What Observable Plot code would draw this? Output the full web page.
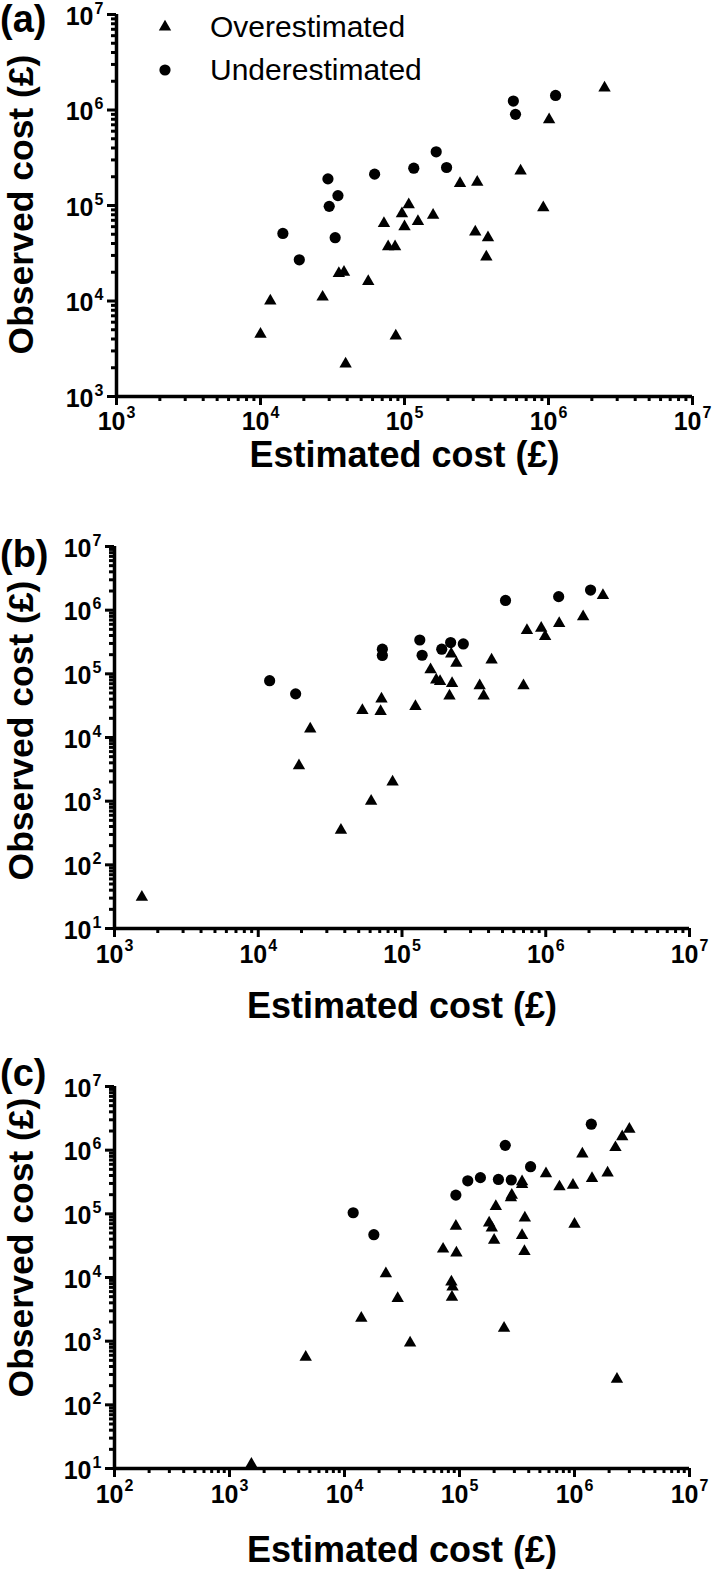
<!DOCTYPE html>
<html><head><meta charset="utf-8">
<script src="https://cdn.jsdelivr.net/npm/d3@7"></script>
<script src="https://cdn.jsdelivr.net/npm/@observablehq/plot@0.6"></script>
<style>
body{margin:0;background:#fff;font-family:"Liberation Sans",Arial,sans-serif;}
.panel{position:relative;width:712px;}
.panel svg{display:block;}
.plabel{position:absolute;left:0;font-weight:bold;font-size:38px;line-height:1;}
.legrow{position:absolute;display:flex;align-items:center;font-size:30px;line-height:1;}
.legrow span{margin-left:30px;}
</style></head><body><div id="root"></div>
<script>
// ---------- data: [estimated cost, observed cost] ----------
const aOver = [[1.0e4,4.5e3],[1.17e4,1.0e4],[2.7e4,1.1e4],[3.5e4,1.95e4],[3.8e4,2.0e4],[3.9e4,2.2e3],
  [5.6e4,1.6e4],[7.7e4,3.7e4],[8.6e4,3.7e4],[8.7e4,4.3e3],[7.2e4,6.5e4],[9.6e4,8.2e4],[1.0e5,6.0e4],
  [1.07e5,1.02e5],[1.24e5,6.8e4],[1.58e5,7.9e4],[2.43e5,1.7e5],[3.2e5,1.76e5],[3.1e5,5.3e4],
  [3.8e5,4.6e4],[3.7e5,2.9e4],[6.4e5,2.3e5],[9.2e5,9.5e4],[1.01e6,7.9e5],[2.45e6,1.7e6]];
const aUnder = [[1.43e4,5.1e4],[1.86e4,2.7e4],[2.94e4,1.9e5],[3.0e4,9.8e4],[3.45e4,1.27e5],[3.3e4,4.6e4],
  [6.2e4,2.13e5],[1.16e5,2.46e5],[1.66e5,3.65e5],[1.96e5,2.5e5],[5.7e5,1.24e6],[5.9e5,9.0e5],[1.12e6,1.42e6]];

const bOver = [[1.55e3,31],[1.92e4,3.6e3],[2.3e4,1.36e4],[3.76e4,350],[6.1e4,1.0e3],[8.6e4,2.0e3],
  [5.3e4,2.66e4],[7.2e4,4.05e4],[7.1e4,2.56e4],[1.24e5,3.07e4],[1.58e5,1.16e5],[1.73e5,8.05e4],
  [1.84e5,7.6e4],[2.2e5,2.06e5],[2.39e5,1.47e5],[2.23e5,7.1e4],[2.14e5,4.5e4],[3.47e5,6.5e4],
  [3.7e5,4.5e4],[4.2e5,1.66e5],[7.0e5,6.5e4],[7.4e5,4.8e5],[9.3e5,5.2e5],[9.9e5,3.86e5],
  [1.24e6,6.2e5],[1.82e6,7.9e5],[2.5e6,1.7e6]];
const bUnder = [[1.2e4,7.8e4],[1.82e4,4.85e4],[7.3e4,2.44e5],[7.3e4,1.94e5],[1.33e5,3.4e5],[1.38e5,1.96e5],
  [1.89e5,2.44e5],[2.18e5,3.1e5],[2.67e5,2.95e5],[5.25e5,1.42e6],[1.23e6,1.63e6],[2.05e6,2.07e6]];

const cOver = [[1.55e3,11.7],[4.6e3,560],[1.4e4,2.3e3],[2.29e4,1.15e4],[2.9e4,4.7e3],[3.72e4,940],
  [7.2e4,2.8e4],[9.3e4,6.4e4],[9.4e4,2.43e4],[8.5e4,8.5e3],[8.7e4,7.1e3],[8.6e4,4.9e3],[1.81e5,7.2e4],
  [1.91e5,6.0e4],[2.0e5,3.85e4],[2.07e5,1.31e5],[2.8e5,1.8e5],[2.85e5,1.97e5],[2.44e5,1.6e3],
  [3.5e5,2.9e5],[3.5e5,3.2e5],[3.5e5,4.6e4],[3.7e5,8.6e4],[3.67e5,2.56e4],[5.65e5,4.27e5],
  [7.4e5,2.66e5],[9.7e5,2.83e5],[1.0e6,6.9e4],[1.17e6,8.7e5],[1.42e6,3.6e5],[1.94e6,4.4e5],
  [2.27e6,1.1e6],[2.6e6,1.63e6],[3.0e6,2.13e6],[2.34e6,254]];
const cUnder = [[1.19e4,1.04e5],[1.8e4,4.7e4],[9.3e4,1.97e5],[1.18e5,3.3e5],[1.52e5,3.7e5],[2.18e5,3.47e5],
  [2.82e5,3.4e5],[4.15e5,5.5e5],[2.5e5,1.19e6],[1.4e6,2.56e6]];

// tick values
const xTicksA = [1e3,1e4,1e5,1e6,1e7];
const yTicksA = [1e3,1e4,1e5,1e6,1e7];
const xTicksB = [1e3,1e4,1e5,1e6,1e7];
const yTicksB = [1e1,1e2,1e3,1e4,1e5,1e6,1e7];
const xTicksC = [1e2,1e3,1e4,1e5,1e6,1e7];
const yTicksC = [1e1,1e2,1e3,1e4,1e5,1e6,1e7];

const panelLabels = ["(a)","(b)","(c)"];
const seriesNames = ["Overestimated","Underestimated"];
const xTitle = "Estimated cost (£)";
const yTitle = "Observed cost (£)";

// ---------- drawing ----------
const FONT = '"Liberation Sans", Arial, Helvetica, sans-serif';
const R_TRI = 4.6, R_CIR = 5.6;
const minors = t => t.slice(0,-1).flatMap(d => [2,3,4,5,6,7,8,9].map(k => k*d));
const expo = d => String(Math.round(Math.log10(d)));

function makePanel(cfg){
  const {over, under, xTicks, yTicks, height, mt, mb, ml, mr, xLabDy, xTitleDy, yTitleDy} = cfg;
  const xDom = [xTicks[0], xTicks[xTicks.length-1]];
  const yDom = [yTicks[0], yTicks[yTicks.length-1]];
  return Plot.plot({
    width: 712, height, marginTop: mt, marginBottom: mb, marginLeft: ml, marginRight: mr,
    style: {fontFamily: FONT, background: "white", color: "black", overflow: "visible"},
    x: {type: "log", domain: xDom},
    y: {type: "log", domain: yDom},
    marks: [
      Plot.axisX({ticks: xTicks, tickSize: 9, strokeWidth: 3, tickFormat: () => "", label: null}),
      Plot.axisX({ticks: minors(xTicks), tickSize: 5, strokeWidth: 3, tickFormat: () => "", label: null}),
      Plot.axisY({ticks: yTicks, tickSize: 9, strokeWidth: 3, tickFormat: () => "", label: null}),
      Plot.axisY({ticks: minors(yTicks), tickSize: 5, strokeWidth: 3, tickFormat: () => "", label: null}),
      Plot.ruleY([yDom[0]], {strokeWidth: 3.5}),
      Plot.ruleX([xDom[0]], {strokeWidth: 3.5}),
      Plot.text(xTicks, {x: d => d, y: yDom[0], text: () => "10", textAnchor: "end", lineAnchor: "middle",
        dx: 9, dy: xLabDy, fontSize: 25, fontWeight: "bold"}),
      Plot.text(xTicks, {x: d => d, y: yDom[0], text: expo, textAnchor: "start", lineAnchor: "middle",
        dx: 10, dy: xLabDy - 9, fontSize: 16, fontWeight: "bold"}),
      Plot.text(yTicks, {x: xDom[0], y: d => d, text: () => "10", textAnchor: "end", lineAnchor: "middle",
        dx: -23, dy: 2, fontSize: 25, fontWeight: "bold"}),
      Plot.text(yTicks, {x: xDom[0], y: d => d, text: expo, textAnchor: "start", lineAnchor: "middle",
        dx: -22, dy: -6, fontSize: 16, fontWeight: "bold"}),
      Plot.text([xTitle], {frameAnchor: "bottom", textAnchor: "middle", lineAnchor: "middle",
        dy: xTitleDy, fontSize: 36, fontWeight: "bold"}),
      Plot.text([yTitle], {frameAnchor: "left", textAnchor: "middle", lineAnchor: "middle",
        dx: 21.5 - ml, dy: yTitleDy, rotate: -90, fontSize: 35.5, fontWeight: "bold"}),
      Plot.dot(over, {x: d => d[0], y: d => d[1], symbol: "triangle", r: R_TRI, fill: "black", stroke: "none"}),
      Plot.dot(under, {x: d => d[0], y: d => d[1], symbol: "circle", r: R_CIR, fill: "black", stroke: "none"})
    ]
  });
}

const root = document.getElementById("root");
const cfgs = [
  {over: aOver, under: aUnder, xTicks: xTicksA, yTicks: yTicksA, height: 500, mt: 14, mb: 104, ml: 116, mr: 20,
   xLabDy: 25, xTitleDy: 59, yTitleDy: -1, labelTop: 0},
  {over: bOver, under: bUnder, xTicks: xTicksB, yTicks: yTicksB, height: 540, mt: 46, mb: 112, ml: 114, mr: 23,
   xLabDy: 26, xTitleDy: 78, yTitleDy: -7, labelTop: 35},
  {over: cOver, under: cUnder, xTicks: xTicksC, yTicks: yTicksC, height: 529, mt: 46, mb: 101, ml: 114, mr: 23,
   xLabDy: 26, xTitleDy: 82, yTitleDy: -30, labelTop: 14}
];
cfgs.forEach((cfg, i) => {
  const div = document.createElement("div");
  div.className = "panel";
  div.style.height = cfg.height + "px";
  div.appendChild(makePanel(cfg));
  const lab = document.createElement("div");
  lab.className = "plabel";
  lab.style.top = cfg.labelTop + "px";
  lab.textContent = panelLabels[i];
  div.appendChild(lab);
  if (i === 0) {
    const syms = [d3.symbolTriangle, d3.symbolCircle];
    const rs = [R_TRI, R_CIR];
    const tops = [12, 55];
    seriesNames.forEach((name, k) => {
      const row = document.createElement("div");
      row.className = "legrow";
      row.style.left = "150px";
      row.style.top = tops[k] + "px";
      const s = d3.create("svg").attr("width", 30).attr("height", 30);
      s.append("path").attr("transform", "translate(15,15)")
        .attr("d", d3.symbol(syms[k], Math.PI * rs[k] * rs[k])()).attr("fill", "black");
      row.appendChild(s.node());
      const sp = document.createElement("span");
      sp.textContent = name;
      row.appendChild(sp);
      div.appendChild(row);
    });
  }
  root.appendChild(div);
});
</script>
</body></html>
